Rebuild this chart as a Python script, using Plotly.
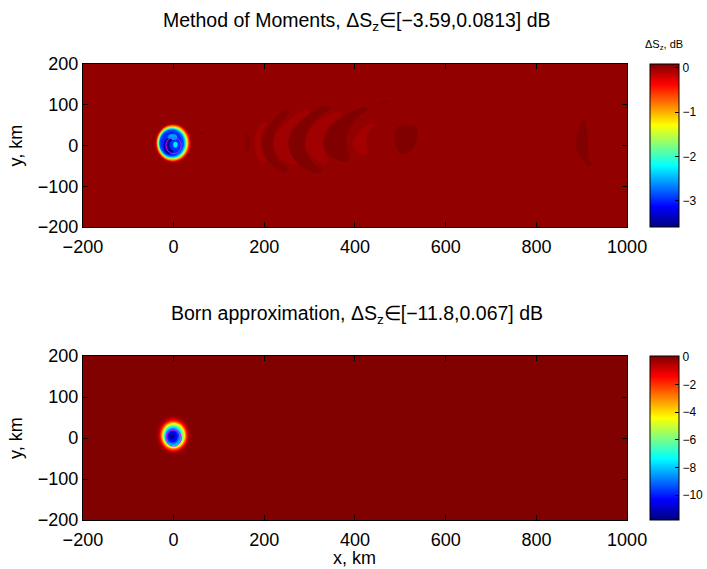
import plotly.graph_objects as go

# ---------------- data (km / dB) ----------------
x_ticks = [-200, 0, 200, 400, 600, 800, 1000]
y_ticks = [-200, -100, 0, 100, 200]
x_range = [-200, 1000]
y_range = [-200, 200]

mom_range = [-3.59, 0.0813]
born_range = [-11.8, 0.067]
mom_cbar_ticks = [0, -1, -2, -3]
born_cbar_ticks = [0, -2, -4, -6, -8, -10]

mom_background = 0.018
born_background = 0.05

# Method of Moments: nested elliptical levels of the scattering spot
mom_spot_cx = [-1, -1, -1, -2, -2, -3, -3, -4, -5, -2, -10, 3, 4]
mom_spot_cy = [6, 6, 6, 6, 6, 6, 6, 6, 5, 20, -2, 1, 2]
mom_spot_rx = [41, 39, 37, 35, 33, 31, 29, 27, 23, 10, 12, 12, 5]
mom_spot_ry = [49, 47, 45, 43, 40, 38, 36, 33, 30, 8, 20, 14, 7]
mom_spot_val = [-0.05, -0.2, -0.5, -0.95, -1.45, -1.95, -2.45, -2.85, -3.0, -2.55, -3.5, -2.95, -2.3]

# Born approximation: nested elliptical levels
born_spot_cx = [0, 0, 0, 0, 0, 0, 0, 0, -1, -1, -1, -2, -2, -3, -4]
born_spot_cy = [7, 7, 7, 6, 6, 6, 6, 5, 5, 5, 4, 4, 4, 5, 5]
born_spot_rx = [40, 36, 33, 31, 29, 27, 25, 23, 21, 19, 17, 14, 11, 7, 4]
born_spot_ry = [50, 45, 41, 39, 36, 33, 31, 28, 26, 23.5, 21, 17.5, 14, 9, 5]
born_spot_val = [-0.1, -0.35, -0.8, -1.4, -2.2, -3.2, -4.3, -5.4, -6.5, -7.6, -8.6, -9.5, -10.2, -10.9, -11.6]

# scatterer outline (magenta)
scatterer_cx, scatterer_cy = 0, 0
scatterer_rx, scatterer_ry = 17, 20

# faint interference arcs in the MoM map (outline points, km) and their level (dB)
arc_x = [
    [160, 157, 160, 166, 168, 166],
    [198, 184, 178, 182, 194, 204, 195, 192, 197, 206],
    [249, 215, 198, 194, 198, 215, 246, 252, 232, 222, 220, 223, 236, 255],
    [290, 250, 228, 220, 225, 245, 268, 280, 262, 254, 258, 275, 300],
    [334, 290, 262, 253, 258, 280, 319, 328, 305, 293, 290, 295, 315, 345],
    [363, 320, 298, 290, 295, 312, 333, 340, 333, 330, 335, 350, 372],
    [418, 372, 342, 330, 337, 358, 381, 388, 383, 381, 386, 400, 428],
    [437, 412, 398, 396, 405, 422, 428, 426, 425, 430, 442],
    [497, 520, 536, 537, 532, 520, 505, 492, 487, 489],
    [905, 892, 887, 889, 900, 917, 922, 914, 913, 913, 910],
    [56, 62, 68, 62],
    [452, 462, 474, 468],
]
arc_y = [
    [29, 9, -16, -11, 9, 25],
    [56, 36, 9, -20, -43, -39, -18, 9, 34, 54],
    [90, 56, 28, 9, -17, -45, -65, -56, -39, -13, 9, 31, 56, 84],
    [87, 58, 31, 9, -17, -39, -47, -40, -20, 9, 31, 56, 81],
    [99, 69, 36, 9, -20, -50, -68, -62, -39, -13, 9, 34, 65, 92],
    [82, 62, 34, 9, -17, -34, -45, -36, -13, 9, 34, 56, 76],
    [94, 69, 39, 9, -17, -34, -40, -31, -9, 9, 36, 62, 90],
    [54, 37, 17, 0, -16, -25, -16, 0, 17, 36, 49],
    [47, 50, 45, 22, 0, -16, -20, -6, 17, 36],
    [65, 39, 11, -13, -34, -53, -47, -28, -6, 22, 50],
    [31, 34, 30, 26],
    [101, 108, 112, 104],
]
arc_val = [0.05, -0.045, 0.07, -0.04, 0.075, -0.04, 0.078, -0.05, 0.078, 0.07, 0.07, 0.07]

# ---------------- helpers ----------------
W, H = 707, 569
FONT = "Liberation Sans, Arial, Helvetica, sans-serif"

def jet_rgb(v, lo, hi):
    f = (v - lo) / (hi - lo)
    f = min(max(f, 0.0), 1.0)
    c = lambda t: min(max(t, 0.0), 1.0)
    r = c(1.5 - abs(4 * f - 3))
    g = c(1.5 - abs(4 * f - 2))
    b = c(1.5 - abs(4 * f - 1))
    return f"rgb({round(255*r)},{round(255*g)},{round(255*b)})"

jet_scale = [[0, "rgb(0,0,128)"], [0.125, "rgb(0,0,255)"], [0.375, "rgb(0,255,255)"],
             [0.625, "rgb(255,255,0)"], [0.875, "rgb(255,0,0)"], [1, "rgb(128,0,0)"]]

def px(x):
    return x / W

def py(y):
    return 1 - y / H

# plot boxes in pixels
TOP = dict(l=83, r=628, t=64, b=227)
BOT = dict(l=83, r=628, t=356, b=520)
CB_X = 650
CB_W = 29

fig = go.Figure()

def add_panel(box, xa, ya, rng, bg, cticks):
    fig.add_trace(go.Heatmap(
        x=x_range, y=y_range, z=[[bg, bg], [bg, bg]],
        xaxis=xa, yaxis=ya, zmin=rng[0], zmax=rng[1], colorscale=jet_scale,
        hoverinfo="skip",
        colorbar=dict(
            x=px(CB_X), xanchor="left", xpad=0, ypad=0,
            y=py((box["t"] + box["b"]) / 2), yanchor="middle",
            len=(box["b"] - box["t"]) / H, lenmode="fraction",
            thickness=CB_W, thicknessmode="pixels",
            outlinewidth=1, outlinecolor="black",
            tickvals=cticks, ticks="inside", ticklen=4, tickcolor="black",
            tickfont=dict(family=FONT, size=12, color="black"),
        ),
    ))

add_panel(TOP, "x", "y", mom_range, mom_background, mom_cbar_ticks)
add_panel(BOT, "x2", "y2", born_range, born_background, born_cbar_ticks)

for xs, ys, v in zip(arc_x, arc_y, arc_val):
    fig.add_trace(go.Scatter(
        x=xs + xs[:1], y=ys + ys[:1], mode="lines", fill="toself",
        fillcolor=jet_rgb(v, *mom_range), line=dict(width=0, shape="spline"),
        hoverinfo="skip", showlegend=False, xaxis="x", yaxis="y"))

shapes = []
for cx, cy, rx, ry, v in zip(mom_spot_cx, mom_spot_cy, mom_spot_rx, mom_spot_ry, mom_spot_val):
    shapes.append(dict(type="circle", xref="x", yref="y", x0=cx - rx, x1=cx + rx,
                       y0=cy - ry, y1=cy + ry, fillcolor=jet_rgb(v, *mom_range),
                       line=dict(width=0), layer="above"))
for cx, cy, rx, ry, v in zip(born_spot_cx, born_spot_cy, born_spot_rx, born_spot_ry, born_spot_val):
    shapes.append(dict(type="circle", xref="x2", yref="y2", x0=cx - rx, x1=cx + rx,
                       y0=cy - ry, y1=cy + ry, fillcolor=jet_rgb(v, *born_range),
                       line=dict(width=0), layer="above"))
for xr, yr in (("x", "y"), ("x2", "y2")):
    shapes.append(dict(type="circle", xref=xr, yref=yr,
                       x0=scatterer_cx - scatterer_rx, x1=scatterer_cx + scatterer_rx,
                       y0=scatterer_cy - scatterer_ry, y1=scatterer_cy + scatterer_ry,
                       line=dict(color="#FF00FF", width=1), layer="above"))

axis_common = dict(showgrid=False, zeroline=False, showline=True, linecolor="black",
                   linewidth=1, mirror="ticks", ticks="inside", ticklen=5,
                   tickcolor="black", tickfont=dict(family=FONT, size=18, color="black"),
                   automargin=False)

def xdom(box):
    return [px(box["l"]), px(box["r"])]

def ydom(box):
    return [py(box["b"]), py(box["t"])]

fig.update_layout(
    width=W, height=H, margin=dict(l=0, r=0, t=0, b=0),
    paper_bgcolor="white", plot_bgcolor="white", showlegend=False,
    xaxis=dict(domain=xdom(TOP), range=x_range, tickvals=x_ticks, anchor="y",
               ticklabelstandoff=3, **axis_common),
    yaxis=dict(domain=ydom(TOP), range=y_range, tickvals=y_ticks, anchor="x", **axis_common),
    xaxis2=dict(domain=xdom(BOT), range=x_range, tickvals=x_ticks, anchor="y2",
                ticklabelstandoff=3, **axis_common),
    yaxis2=dict(domain=ydom(BOT), range=y_range, tickvals=y_ticks, anchor="x2", **axis_common),
    shapes=shapes,
    font=dict(family=FONT, color="black"),
)

cx_plot = (TOP["l"] + TOP["r"]) / 2
ann = [
    dict(text="Method of Moments, ΔS<sub>z</sub>∈[−3.59,0.0813] dB", x=px(cx_plot + 2), y=py(22),
         font=dict(size=19.5)),
    dict(text="Born approximation, ΔS<sub>z</sub>∈[−11.8,0.067] dB", x=px(cx_plot + 2), y=py(314),
         font=dict(size=19.5)),
    dict(text="ΔS<sub>z</sub>, dB", x=px(CB_X + CB_W / 2), y=py(45), font=dict(size=11)),
    dict(text="x, km", x=px(cx_plot), y=py(558), font=dict(size=18)),
    dict(text="y, km", x=px(16), y=py((TOP["t"] + TOP["b"]) / 2), textangle=-90, font=dict(size=18)),
    dict(text="y, km", x=px(16), y=py((BOT["t"] + BOT["b"]) / 2), textangle=-90, font=dict(size=18)),
]
for a in ann:
    a.update(xref="paper", yref="paper", showarrow=False, xanchor="center", yanchor="middle")
    a["font"].update(family=FONT, color="black")
fig.update_layout(annotations=ann)

fig.write_html("out.html")
